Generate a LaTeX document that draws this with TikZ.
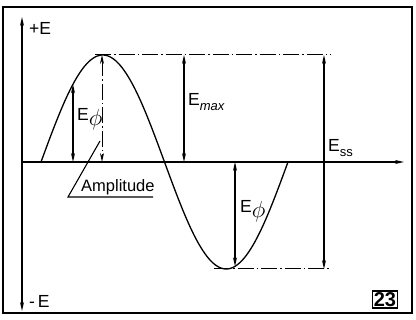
\documentclass[tikz,border=0pt]{standalone}
\usepackage{fontspec}
\setmainfont{Liberation Sans}
\usetikzlibrary{arrows.meta,positioning}
\newcommand\lsub[1]{\raisebox{-4.5pt}{\fontsize{13}{14}\selectfont#1}}
\newcommand\phisub{\raisebox{-5pt}{\scalebox{1.35}{$\phi$}}}

\begin{document}
\begin{tikzpicture}[
  x=1pt, y=-1pt,
  >={Stealth[length=9pt,width=4pt]},
  axis/.style={line width=1.4pt},
  dim/.style={line width=1.1pt, <->},
  centre/.style={line width=1pt, dash pattern=on 16pt off 3pt on 1.5pt off 3pt},
  lbl/.style={font=\fontsize{17.5}{19}\selectfont, inner sep=0pt, anchor=west},
]
  \def\ax{162}   % y of the time axis
  \def\amp{107}  % peak height above the axis
  \def\xs{41}    % start of the wave
  \def\per{247}  % one full period
  \useasboundingbox (0,0) rectangle (416,320);
  \draw[line width=2.2pt] (3,7) rectangle (412,313);
  % Axes
  \coordinate (orig) at (22,\ax);
  \coordinate (ytop) at (22,17);
  \coordinate (ybot) at (22,311);
  \coordinate (tend) at (404,\ax);
  \draw[axis,->] (orig) -- (ytop);
  \draw[axis,->] (orig) -- (ybot);
  \draw[axis,->] (orig) -- (tend);
  \node[lbl] (pE) at (29,28)  {+E};
  \node[lbl] (mE) at (29,301) {-\,E};
  % One period of the sine wave
  \draw[line width=1.3pt, domain=0:360, samples=120, smooth]
    plot ({\xs+\per/360*\x}, {\ax-\amp*sin(\x)});
  % Peak and trough: x = xs + per/4, xs + 3per/4
  \coordinate (peak)   at (102,{\ax-\amp});
  \coordinate (trough) at (226,{\ax+\amp});
  \coordinate (pk0) at (95,{\ax-\amp});
  \coordinate (pk1) at (331,{\ax-\amp});
  \coordinate (tr0) at (214,{\ax+\amp});
  \coordinate (tr1) at (329,{\ax+\amp});
  \draw[centre] (pk0) -- (pk1);
  \draw[centre] (tr0) -- (tr1);
  % Amplitude line through the peak
  \coordinate (peakax) at (102,\ax);
  \draw[centre, <->] (peak) -- (peakax);
  % E_max
  \coordinate (mx0) at (184,{\ax-\amp});
  \coordinate (mx1) at (184,\ax);
  \draw[dim] (mx0) -- (mx1);
  \node[lbl] (emax) at (188,102) {E\lsub{\textit{max}}};
  % E_ss
  \coordinate (ss0) at (324,{\ax-\amp});
  \coordinate (ss1) at (324,{\ax+\amp});
  \draw[dim] (ss0) -- (ss1);
  \node[lbl] (ess) at (328,148) {E\lsub{ss}};
  % E_phi left: angle (73-41)/247*360 = 46.6
  \coordinate (pl0) at (73,{\ax-\amp*sin(46.6)});
  \coordinate (pl1) at (73,\ax);
  \draw[dim] (pl0) -- (pl1);
  \node[lbl] (ephl) at (77,119) {E\phisub};
  % E_phi right: angle (235-41)/247*360 = 282.8
  \coordinate (pr0) at (235,\ax);
  \coordinate (pr1) at (235,{\ax-\amp*sin(282.8)});
  \draw[dim] (pr0) -- (pr1);
  \node[lbl] (ephr) at (240,211) {E\phisub};
  % Amplitude label with underline and leader
  \node[lbl, font=\fontsize{16.5}{18}\selectfont] (ampl) at (81,187) {Amplitude};
  \coordinate (ul0) at (68,197);
  \coordinate (ul1) at (153,197);
  \coordinate (ld) at (100,141);
  \draw[line width=1.1pt] (ld) -- (ul0) -- (ul1);
  % Figure number
  \node[draw, line width=1.4pt, inner sep=1.5pt, font=\fontsize{20}{21}\selectfont\bfseries]
    (fig) at (385,299.5) {23};
\end{tikzpicture}
\end{document}
